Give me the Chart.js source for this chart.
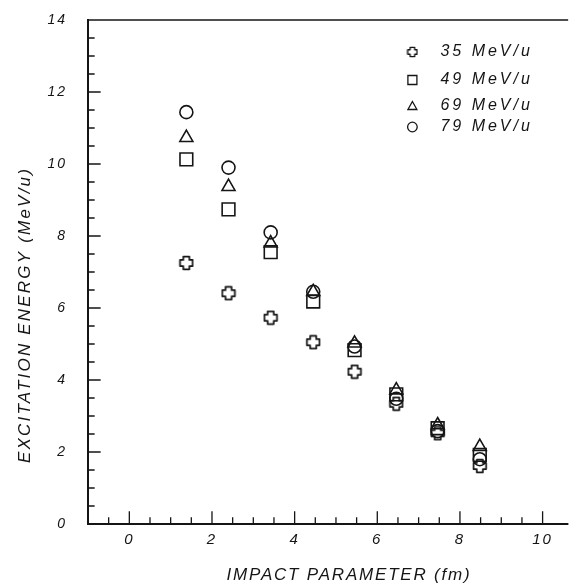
<!DOCTYPE html>
<html>
<head>
<meta charset="utf-8">
<script src="https://cdn.jsdelivr.net/npm/chart.js@4/dist/chart.umd.min.js"></script>
<style>
  html, body { margin: 0; padding: 0; background: #fff; }
  #wrap { width: 578px; height: 586px; }
</style>
</head>
<body>
<div id="wrap"><canvas id="chart" width="578" height="586"></canvas></div>
<script>
// Impact parameter (fm) of each bin
const impactParam = [1.38, 2.4, 3.42, 4.45, 5.45, 6.46, 7.46, 8.48];

// Excitation energy (MeV/u) per beam energy
const e35 = [7.25, 6.41, 5.73, 5.05, 4.23, 3.34, 2.52, 1.61];
const e49 = [10.13, 8.74, 7.55, 6.18, 4.83, 3.6, 2.66, 1.92];
const e69 = [10.73, 9.37, 7.8, 6.45, 5.02, 3.72, 2.75, 2.15];
const e79 = [11.44, 9.9, 8.1, 6.45, 4.93, 3.48, 2.58, 1.8];

const seriesLabels = ['35 MeV/u', '49 MeV/u', '69 MeV/u', '79 MeV/u'];

const xTitle = 'IMPACT PARAMETER (fm)';
const yTitle = 'EXCITATION ENERGY (MeV/u)';

const INK = '#151515';
const FONT = "'Liberation Sans', Arial, sans-serif";

// hollow "plus" marker drawn on a small canvas
function makePlus(size, lw) {
  const c = document.createElement('canvas');
  c.width = size; c.height = size;
  const g = c.getContext('2d');
  const m = size / 2, R = size / 2 - lw, h = size * 0.19;
  g.translate(m, m);
  g.beginPath();
  g.moveTo(-h, -R); g.lineTo(h, -R); g.lineTo(h, -h); g.lineTo(R, -h);
  g.lineTo(R, h); g.lineTo(h, h); g.lineTo(h, R); g.lineTo(-h, R);
  g.lineTo(-h, h); g.lineTo(-R, h); g.lineTo(-R, -h); g.lineTo(-h, -h);
  g.closePath();
  g.lineJoin = 'round';
  g.lineWidth = lw;
  g.strokeStyle = INK;
  g.stroke();
  return c;
}
const plusBig = makePlus(16, 1.7);
const plusSmall = makePlus(12, 1.4);

function toPoints(ys) {
  return impactParam.map((x, i) => ({ x: x, y: ys[i] }));
}

function isEven(v) {
  return Math.abs(v - Math.round(v / 2) * 2) < 1e-6;
}
function isHalf(v) {
  return Math.abs(v * 2 - Math.round(v * 2)) < 1e-6;
}

// axes frame, inward tick marks, axis titles and legend
const framePlugin = {
  id: 'frame',
  beforeDraw(chart) {
    chart.ctx.letterSpacing = '2px';
  },
  afterDatasetsDraw(chart) {
    const { ctx, chartArea: a, scales } = chart;
    ctx.save();
    ctx.strokeStyle = INK;
    ctx.lineCap = 'square';
    ctx.lineWidth = 2;
    ctx.beginPath();
    ctx.moveTo(a.left, a.top); ctx.lineTo(a.left, a.bottom); ctx.lineTo(a.right, a.bottom);
    ctx.stroke();
    ctx.lineWidth = 1.5;
    ctx.beginPath();
    ctx.moveTo(a.left, a.top); ctx.lineTo(a.right, a.top);
    ctx.stroke();

    ctx.lineWidth = 1.3;
    ctx.beginPath();
    scales.y.ticks.forEach(t => {
      if (!isHalf(t.value) || t.value <= 0 || t.value >= 14) return;
      const y = scales.y.getPixelForValue(t.value);
      const len = isEven(t.value) ? 12 : 6;
      ctx.moveTo(a.left, y); ctx.lineTo(a.left + len, y);
    });
    scales.x.ticks.forEach(t => {
      if (!isHalf(t.value) || t.value <= scales.x.min) return;
      const x = scales.x.getPixelForValue(t.value);
      const len = isEven(t.value) ? 12 : 6;
      ctx.moveTo(x, a.bottom); ctx.lineTo(x, a.bottom - len);
    });
    ctx.stroke();
    ctx.restore();
  },
  afterDraw(chart) {
    const { ctx, chartArea: a } = chart;
    ctx.save();
    ctx.fillStyle = INK;
    ctx.font = 'italic 17px ' + FONT;
    ctx.textAlign = 'center';
    ctx.textBaseline = 'middle';
    // x title (sits a little right of the plot centre in the original)
    ctx.letterSpacing = '1.8px';
    ctx.fillText(xTitle, a.left + 261, 575);
    // y title
    ctx.letterSpacing = '2.2px';
    ctx.translate(25, a.top + 295);
    ctx.rotate(-Math.PI / 2);
    ctx.fillText(yTitle, 0, 0);
    ctx.restore();

    // legend in the upper right
    const rowsY = [52, 80, 106, 127];
    const mx = a.right - 155, tx = a.right - 127;
    ctx.save();
    ctx.strokeStyle = INK;
    ctx.fillStyle = INK;
    ctx.lineWidth = 1.3;
    ctx.font = 'italic 16px ' + FONT;
    ctx.letterSpacing = '3px';
    ctx.textBaseline = 'middle';
    ctx.textAlign = 'left';
    seriesLabels.forEach((lab, i) => {
      const y = rowsY[i];
      ctx.beginPath();
      if (i === 0) {
        ctx.drawImage(plusSmall, mx - 6, y - 6);
      } else if (i === 1) {
        ctx.rect(mx - 4.5, y - 4.5, 9, 9);
      } else if (i === 2) {
        ctx.moveTo(mx, y - 4.5); ctx.lineTo(mx + 4.5, y + 3.5); ctx.lineTo(mx - 4.5, y + 3.5); ctx.closePath();
      } else {
        ctx.arc(mx, y, 4.8, 0, Math.PI * 2);
      }
      ctx.stroke();
      ctx.fillText(lab, tx, y);
    });
    ctx.restore();
  }
};

const common = {
  showLine: false,
  borderColor: INK,
  backgroundColor: 'rgba(0,0,0,0)',
  borderWidth: 1.6
};

new Chart(document.getElementById('chart'), {
  type: 'scatter',
  data: {
    datasets: [
      Object.assign({ label: seriesLabels[0], data: toPoints(e35), pointStyle: plusBig, pointRadius: 7 }, common),
      Object.assign({ label: seriesLabels[1], data: toPoints(e49), pointStyle: 'rect', pointRadius: 9 }, common),
      Object.assign({ label: seriesLabels[2], data: toPoints(e69), pointStyle: 'triangle', pointRadius: 7.5 }, common),
      Object.assign({ label: seriesLabels[3], data: toPoints(e79), pointStyle: 'circle', pointRadius: 6.5 }, common)
    ]
  },
  options: {
    responsive: false,
    animation: false,
    events: [],
    layout: { padding: { top: 20, right: 8, left: 0, bottom: 0 } },
    plugins: {
      legend: { display: false },
      tooltip: { enabled: false }
    },
    scales: {
      x: {
        type: 'linear',
        min: -1,
        max: 10.6,
        afterFit: s => { s.height = 62; },
        grid: { display: false, drawTicks: false },
        border: { display: false },
        ticks: {
          stepSize: 0.5,
          autoSkip: false,
          maxRotation: 0,
          padding: 7,
          color: INK,
          font: { family: FONT, size: 15, style: 'italic' },
          callback: v => (v >= 0 && isEven(v) ? String(v) : '')
        },
        title: { display: false }
      },
      y: {
        type: 'linear',
        min: 0,
        max: 14,
        afterFit: s => { s.width = 88; s.paddingTop = 8; s.paddingBottom = 8; },
        grid: { display: false, drawTicks: false },
        border: { display: false },
        ticks: {
          stepSize: 0.5,
          autoSkip: false,
          padding: 21,
          color: INK,
          font: { family: FONT, size: 14, style: 'italic' },
          callback: v => (isEven(v) ? String(v) : '')
        },
        title: { display: false }
      }
    }
  },
  plugins: [framePlugin]
});
</script>
</body>
</html>
